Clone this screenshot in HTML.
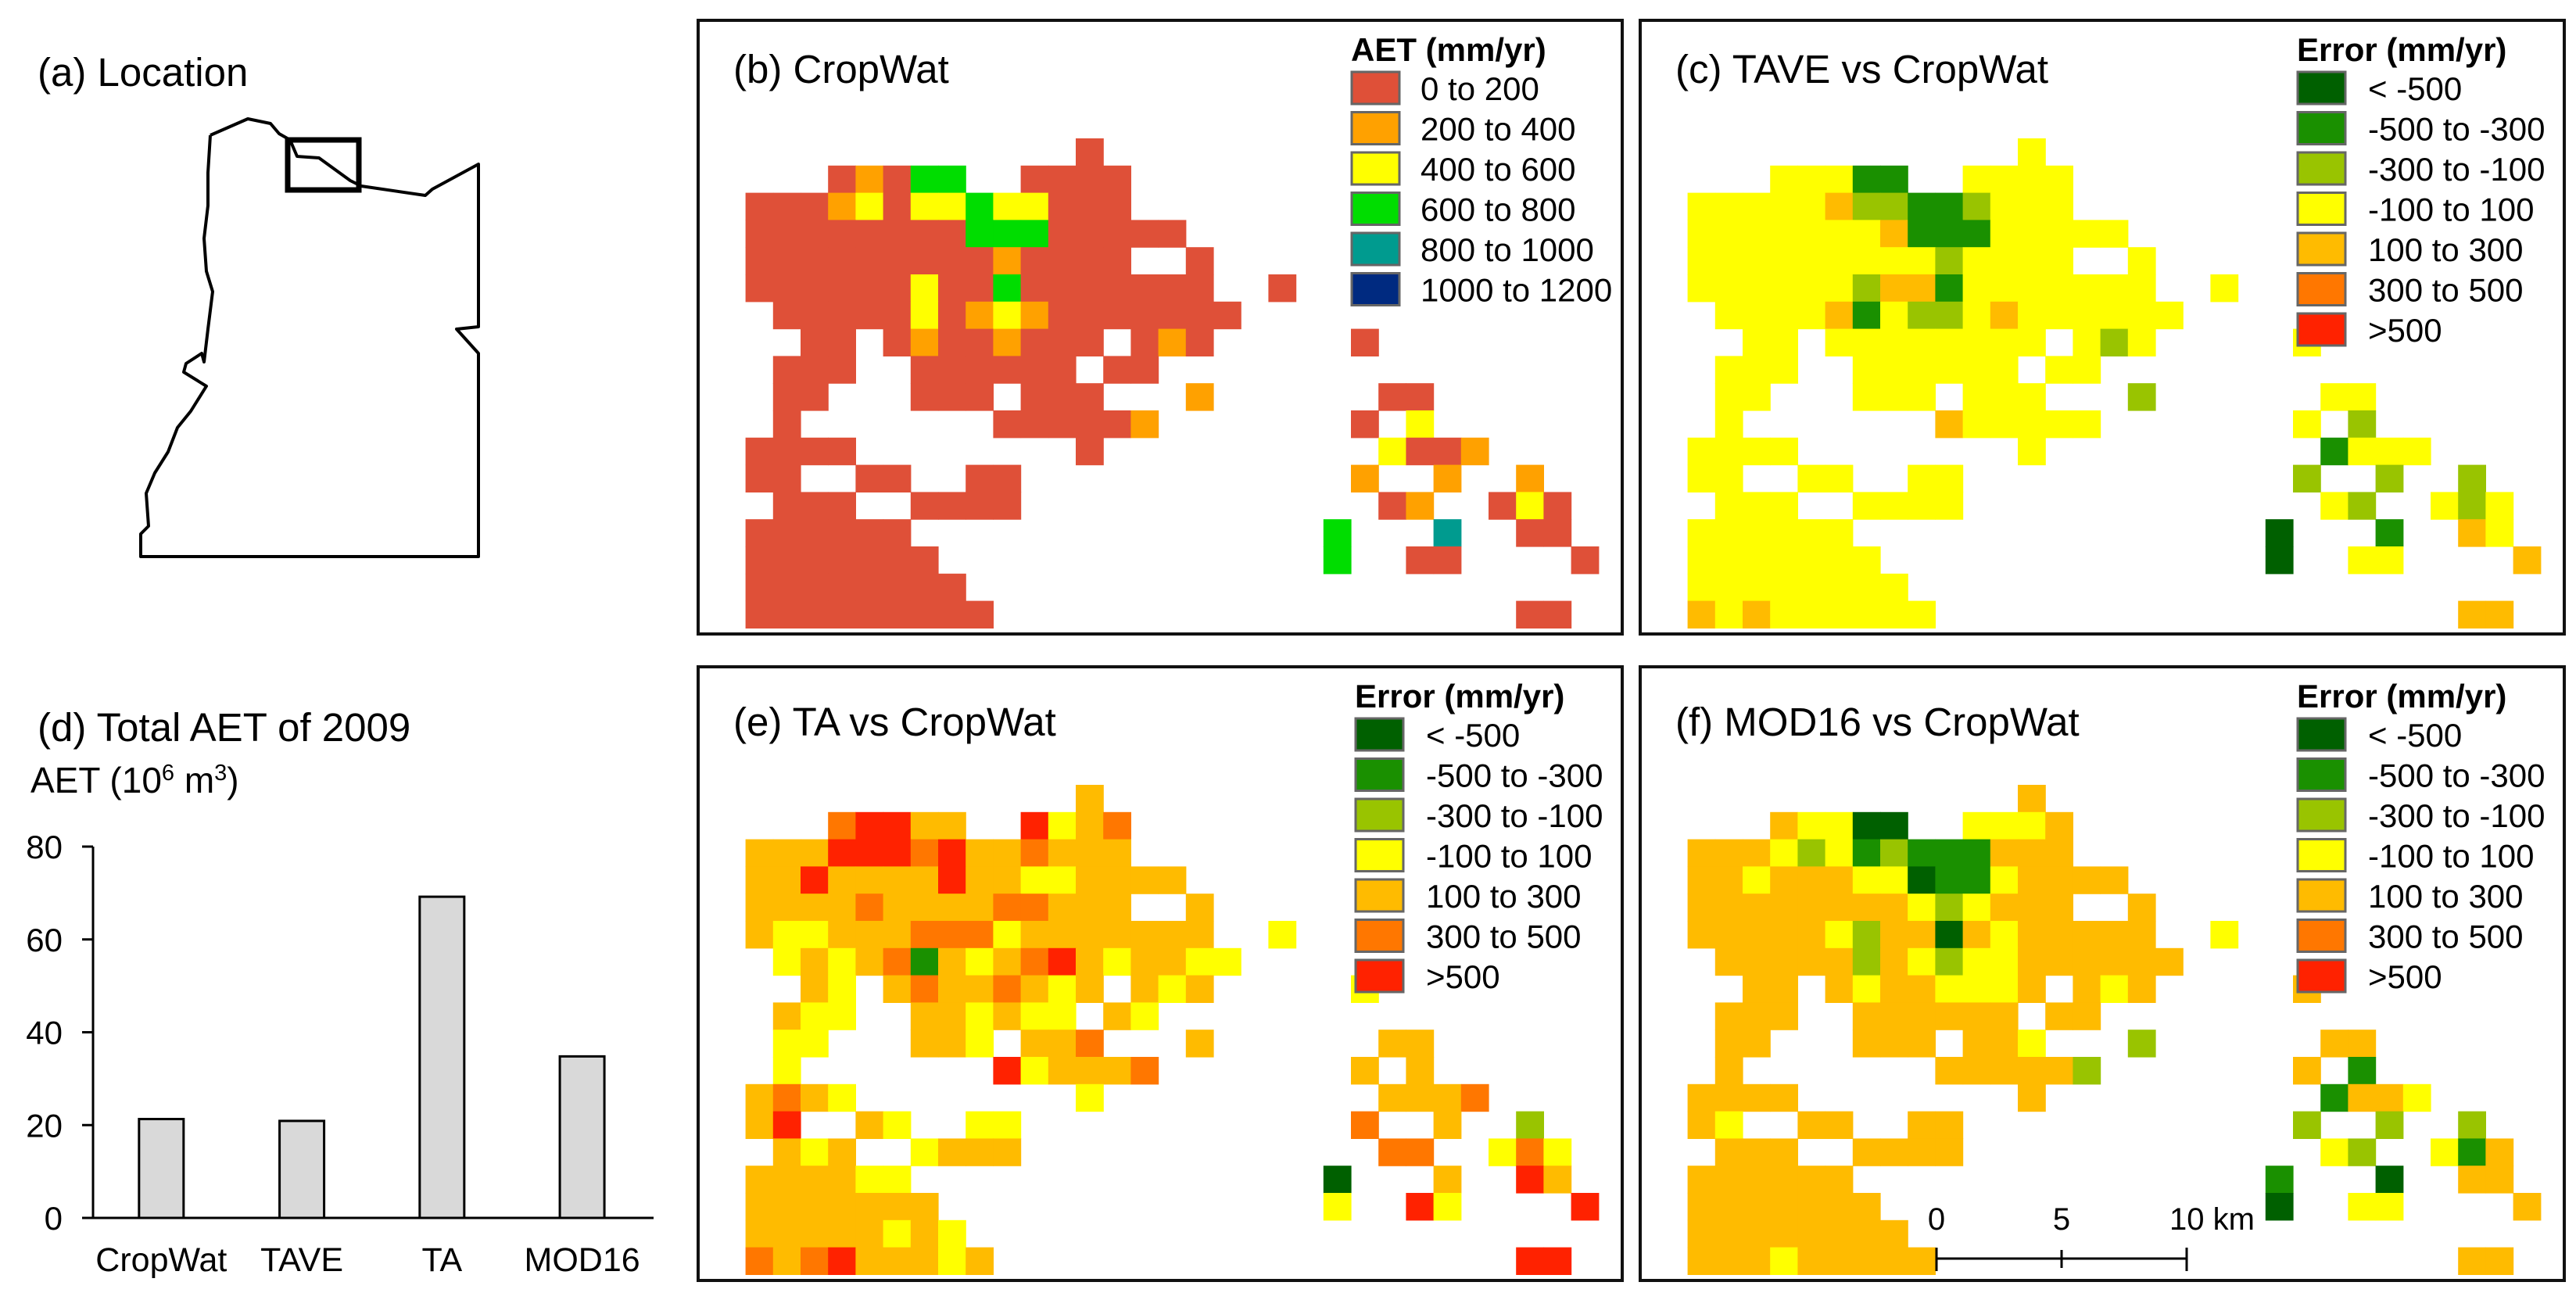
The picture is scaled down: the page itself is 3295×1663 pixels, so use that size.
<!DOCTYPE html>
<html><head><meta charset="utf-8"><style>
html,body{margin:0;padding:0;background:#fff;}
svg{display:block;font-family:"Liberation Sans",sans-serif;}
</style></head><body>
<svg id="fig" width="3295" height="1663" viewBox="0 0 3295 1663" xmlns="http://www.w3.org/2000/svg">
<rect width="3295" height="1663" fill="#fff"/>
<g>
<text x="48" y="110" font-size="51">(a) Location</text>
<polyline fill="none" stroke="#000" stroke-width="4" stroke-linejoin="round" points="269,173 317,152 346,158 357,171 371,179 380,200 408,202 448,231 462,238 544,250 553,242 612,210 612,418 584,421 612,452 612,712 180,712 180,683 190,673 187,631 198,605 215,578 227,547 244,526 264,494 235,476 238,465 258,452 261,463 266,421 272,373 264,347 261,305 266,263 266,221 269,173"/>
<rect x="368" y="179" width="91" height="64" fill="none" stroke="#000" stroke-width="7"/>
</g>
<g id="chartD">
<text x="48" y="948" font-size="51">(d) Total AET of 2009</text>
<text x="39" y="1014" font-size="46">AET (10<tspan font-size="29" dy="-16">6</tspan><tspan dy="16"> m</tspan><tspan font-size="29" dy="-16">3</tspan><tspan dy="16">)</tspan></text>
</g>
<g id="maps"></g>
</svg>
<script>
// ---- bar chart data ----
const barCategories = ["CropWat","TAVE","TA","MOD16"];
const barValues = [21.3, 20.9, 69.2, 34.8];
const yTicks = [0,20,40,60,80];

// ---- map grids (rows top->bottom, 31 columns) ----
const gridB = [
"............R..................",
"...RORGG..RRRR.................",
"RRROYRYYGYYRRR.................",
"RRRRRRRRGGGRRRRR...............",
"RRRRRRRRRORRRR..R..............",
"RRRRRRYRRGRRRRRRR..R...........",
".RRRRRYROYORRRRRRR.............",
"..RR.RORRORRR.ROR.....R........",
".RRR..RRRRRR.RR................",
".RR...RRR.RRR...O......RR......",
".R.......RRRRRO.......R.Y......",
"RRRR........R..........YRRO....",
"RR..RR..RR............O..O..O..",
".RRR..RRRR.............RO..RYR.",
"RRRRRR...............G...T..RR.",
"RRRRRRR..............G..RR....R",
"RRRRRRRR.......................",
"RRRRRRRRR...................RR."];
const gridC = [
"............Y..................",
"...YYYMM..YYYY.................",
"YYYYYALLMMLYYY.................",
"YYYYYYYAMMMYYYYY...............",
"YYYYYYYYYLYYYY..Y..............",
"YYYYYYLAAMYYYYYYY..Y...........",
".YYYYAMYLLYAYYYYYY.............",
"..YY.YYYYYYYY.YLY.....Y........",
".YYY..YYYYYY.YY................",
".YY...YYY.YYY...L......YY......",
".Y.......AYYYYY.......Y.L......",
"YYYY........Y..........MYYY....",
"YY..YY..YY............L..L..L..",
".YYY..YYYY.............YL..YLY.",
"YYYYYY...............D...M..AY.",
"YYYYYYY..............D..YY....A",
"YYYYYYYY.......................",
"AYAYYYYYY...................AA."];
const gridE = [
"............A..................",
"...ORRAA..RYAO.................",
"AAARRRORAAOAAA.................",
"AARAAAARAAYYAAAA...............",
"AAAAOAAAAOOAAA..A..............",
"AYYAAAOOOYAAAAAAA..Y...........",
".YAYAOMAYAORAYAAYY.............",
"..AY.AOAAOAYA.AYA.....Y........",
".AYY..AAYAYY.AY................",
".YY...AAY.AAO...A......AA......",
".Y.......RYAAAO.......A.A......",
"AOAY........Y..........AAAO....",
"AR..AY..YY............O..A..L..",
".AYA..YAAA.............OO..YOY.",
"AAAAYY...............D...A..RA.",
"AAAAAAA..............Y..RY....R",
"AAAAAYAY.......................",
"OAORAAAYA...................RR."];
const gridF = [
"............A..................",
"...AYYDD..YYYA.................",
"AAAYLYMLMMMAAA.................",
"AAYAAAYYDMMYAAAA...............",
"AAAAAAAAYLYAAA..A..............",
"AAAAAYLAADAYAAAAA..Y...........",
".AAAAALAYLYYAAAAAA.............",
"..AA.AYAAYYYA.AYA.....A........",
".AAA..AAAAAA.AA................",
".AA...AAA.AAY...L......AA......",
".A.......AAAAAL.......A.M......",
"AAAA........A..........MAAY....",
"AY..AA..AA............L..L..L..",
".AAA..AAAA.............YL..YMA.",
"AAAAAA...............M...D..AA.",
"AAAAAAA..............D..YY....A",
"AAAAAAAA.......................",
"AAAYAAAAA...................AA."];
const aetLabels = ["0 to 200","200 to 400","400 to 600","600 to 800","800 to 1000","1000 to 1200"];
const errLabels = ["< -500","-500 to -300","-300 to -100","-100 to 100","100 to 300","300 to 500",">500"];

const NS="http://www.w3.org/2000/svg";
function mk(tag, attrs, parent){const e=document.createElementNS(NS,tag);for(const k in attrs)e.setAttribute(k,attrs[k]);parent.appendChild(e);return e;}
const aetCols={R:"#df5038",O:"#ffa100",Y:"#ffff00",G:"#00dd00",T:"#009b8f",N:"#002a80"};
const errCols={D:"#006000",M:"#1a9000",L:"#99c400",Y:"#ffff00",A:"#ffbb00",O:"#ff7700",R:"#ff2200"};
const aetKeys=["R","O","Y","G","T","N"];
const errKeys=["D","M","L","Y","A","O","R"];

// ---- bar chart ----
const chart=document.getElementById('chartD');
const yMin=0,yMax=80,py0=1558,py1=1083;
function yScale(v){return py0-(v-yMin)/(yMax-yMin)*(py0-py1);}
const axL=108,axR=836,plotL=119;
const slot=(axR-plotL)/barCategories.length;
function xCenter(i){return plotL+slot*(i+0.5)-0.5*slot*0.02+(i===0?-0.5:0);}
barCategories.forEach((c,i)=>{
  const cx=xCenter(i), w=57, v=barValues[i];
  const b=mk('rect',{x:cx-w/2,y:yScale(v),width:w,height:yScale(0)-yScale(v),fill:"#d9d9d9",stroke:"#000","stroke-width":3},chart);
  
  
  const t=mk('text',{x:cx,y:1626,"font-size":43,"text-anchor":"middle"},chart);
  t.textContent=c;
  
  
});
yTicks.forEach(v=>{
  const y=yScale(v);
  const tk=mk('line',{x1:plotL-14,x2:plotL,y1:y,y2:y,stroke:"#000","stroke-width":3},chart);
  
  
  const t=mk('text',{x:80,y:y+15,"font-size":42,"text-anchor":"end"},chart);
  t.textContent=v;
  
  
});
const ya=mk('line',{x1:plotL,x2:plotL,y1:py1,y2:py0,stroke:"#000","stroke-width":3},chart);


const xa=mk('line',{x1:axL,x2:axR,y1:py0,y2:py0,stroke:"#000","stroke-width":3},chart);



// ---- maps ----
const maps=document.getElementById('maps');
const CW=35.2, CH=34.8;
const panels=[
 {id:"b",title:"(b) CropWat",grid:gridB,cols:aetCols,keys:aetKeys,labels:aetLabels,lt:"AET (mm/yr)",bx:891,by:24,gx:953.6,gy:177,ty:106,lx:837},
 {id:"c",title:"(c) TAVE vs CropWat",grid:gridC,cols:errCols,keys:errKeys,labels:errLabels,lt:"Error (mm/yr)",bx:2096,by:24,gx:2158.6,gy:177,ty:106,lx:842},
 {id:"e",title:"(e) TA vs CropWat",grid:gridE,cols:errCols,keys:errKeys,labels:errLabels,lt:"Error (mm/yr)",bx:891,by:851,gx:953.6,gy:1004,ty:941,lx:842},
 {id:"f",title:"(f) MOD16 vs CropWat",grid:gridF,cols:errCols,keys:errKeys,labels:errLabels,lt:"Error (mm/yr)",bx:2096,by:851,gx:2158.6,gy:1004,ty:941,lx:842}
];
panels.forEach(p=>{
  const g=mk('g',{},maps);
  
  
  const cells=mk('g',{},g);
  
  
  p.grid.forEach((row,r)=>{
    for(let c=0;c<row.length;c++){
      const k=row[c]; if(k==='.') continue;
      const cell=mk('rect',{x:(p.gx+c*CW).toFixed(1),y:(p.gy+r*CH).toFixed(1),width:CW+0.6,height:CH+0.6,fill:p.cols[k]},cells);
      
      
    }
  });
  const box=mk('rect',{x:p.bx+2,y:p.by+2,width:1182,height:785,fill:"none",stroke:"#111","stroke-width":4},g);
  
  
  const t=mk('text',{x:p.bx+47,y:p.ty,"font-size":51},g);
  t.textContent=p.title;
  
  
  const lg=mk('g',{},g);
  
  
  const lt=mk('text',{x:p.bx+p.lx,y:p.by+54,"font-size":42,"font-weight":"bold"},lg);
  lt.textContent=p.lt;
  
  
  p.keys.forEach((k,i)=>{
    const y=p.by+68+i*51.5;
    const sw=mk('rect',{x:p.bx+p.lx+1,y:y,width:61,height:41,fill:p.cols[k],stroke:"#666","stroke-width":3},lg);
    
    
    const lb=mk('text',{x:p.bx+p.lx+(p.id==="b"?89:91),y:y+36,"font-size":42},lg);
    lb.textContent=p.labels[i];
    
    
  });
});
// scale bar
const sb=mk('g',{},maps);


mk('line',{x1:2477,x2:2797,y1:1610,y2:1610,stroke:"#000","stroke-width":3},sb);
[2477,2637,2797].forEach((x,i)=>{
  mk('line',{x1:x,x2:x,y1:i===1?1599:1596,y2:i===1?1622:1626,stroke:"#000","stroke-width":3},sb);
});
const s0=mk('text',{x:2477,y:1573,"font-size":40,"text-anchor":"middle"},sb); s0.textContent="0";
const s5=mk('text',{x:2637,y:1573,"font-size":40,"text-anchor":"middle"},sb); s5.textContent="5";
const s10=mk('text',{x:2775,y:1573,"font-size":40},sb); s10.textContent="10 km";
</script>
</body></html>
